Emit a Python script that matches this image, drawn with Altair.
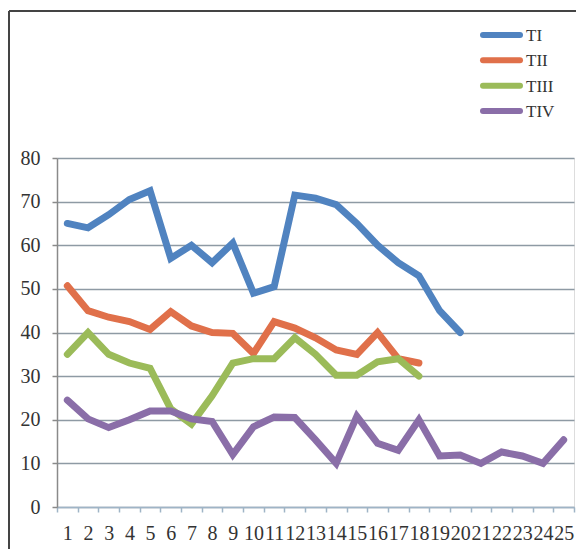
import altair as alt
import pandas as pd

series_names = ["TI", "TII", "TIII", "TIV"]
colors = ["#5083C0", "#E0704A", "#9BBB59", "#8A6EA8"]

ti = [65, 64, 67, 70.5, 72.5, 57, 60, 56, 60.5, 49, 50.5, 71.5, 70.8, 69.3, 65, 60, 56, 53, 45, 40]
tii = [50.7, 45, 43.5, 42.5, 40.7, 44.8, 41.5, 40, 39.8, 35.2, 42.5, 41, 38.8, 36, 35, 40, 34, 33]
tiii = [35, 40, 35, 33, 31.8, 22.5, 19, 25.5, 33, 34, 34, 38.8, 35, 30.2, 30.2, 33.3, 34, 30]
tiv = [24.5, 20.2, 18.2, 20, 22, 22, 20.2, 19.6, 12, 18.4, 20.6, 20.5, 15.4, 10, 20.8, 14.6, 13, 20, 11.7, 11.9, 10, 12.6, 11.7, 10, 15.4]

categories = list(range(1, 26))
y_ticks = [0, 10, 20, 30, 40, 50, 60, 70, 80]

rows = []
for name, vals in zip(series_names, [ti, tii, tiii, tiv]):
    for i, v in enumerate(vals):
        rows.append({"x": categories[i], "value": v, "series": name})
df = pd.DataFrame(rows)
legend_df = pd.DataFrame({"series": series_names})

FONT = "Liberation Serif"
color_scale = alt.Scale(domain=series_names, range=colors)

lines = alt.Chart(df).mark_line(strokeWidth=7, strokeCap="round", strokeJoin="miter").encode(
    x=alt.X("x:O", bandPosition=0.5,
            scale=alt.Scale(type="band", domain=categories, paddingInner=0, paddingOuter=0),
            axis=alt.Axis(title=None, labelAngle=0, grid=False, tickBand="extent",
                          domainColor="#9FB4C6", tickColor="#9FB4C6", tickSize=5,
                          domainWidth=1.5, tickWidth=1.5,
                          labelFont=FONT, labelFontSize=20, labelColor="#333333",
                          labelPadding=11, labelOverlap=False, labelSeparation=-20)),
    y=alt.Y("value:Q", scale=alt.Scale(domain=[0, 80], nice=False),
            axis=alt.Axis(title=None, values=y_ticks, grid=True, gridColor="#8E9AA4",
                          gridWidth=1.5, domainColor="#8A8A8A", domainWidth=1.5,
                          tickColor="#8A8A8A", tickSize=5, tickWidth=1.5,
                          labelFont=FONT, labelFontSize=20, labelColor="#333333",
                          labelPadding=12)),
    color=alt.Color("series:N", scale=color_scale, legend=None),
    order=alt.Order("x:O"),
)

legend_y = alt.Y("series:N", scale=alt.Scale(domain=series_names, type="point",
                                              range=[-123, -47], padding=0), axis=None)
legend_lines = alt.Chart(legend_df).mark_rule(strokeWidth=6, strokeCap="round").encode(
    x=alt.value(426), x2=alt.value(463), y=legend_y,
    color=alt.Color("series:N", scale=color_scale, legend=None))
legend_text = alt.Chart(legend_df).mark_text(
    align="left", baseline="middle", font=FONT, fontSize=17, color="#333333", dy=1).encode(
    x=alt.value(469), y=legend_y, text="series:N")

frame_top = alt.Chart(legend_df).mark_rule(color="#444444", strokeWidth=2).encode(
    x=alt.value(-48), x2=alt.value(530), y=alt.value(-147))
frame_left = alt.Chart(legend_df).mark_rule(color="#444444", strokeWidth=2).encode(
    x=alt.value(-48), y=alt.value(-147), y2=alt.value(400))

chart = alt.layer(frame_top, frame_left, lines, legend_lines, legend_text).resolve_scale(
    y="independent"
).properties(
    width=517, height=349,
    autosize=alt.AutoSizeParams(type="none"),
    padding={"left": 49, "top": 150, "right": 2, "bottom": 42},
).configure_view(stroke=None).configure(background="white")

chart.save("out.html", embed_options={"renderer": "svg", "actions": False})
